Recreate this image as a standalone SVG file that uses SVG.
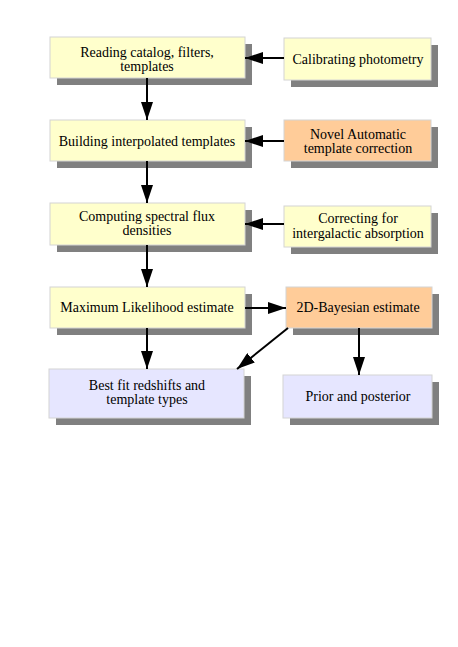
<svg xmlns="http://www.w3.org/2000/svg" width="458" height="647" viewBox="0 0 458 647">
<style>
.sh{fill:#808080}
.y{fill:#ffffcc;stroke:#d4d4d4;stroke-width:1}
.o{fill:#ffcc99;stroke:#d4d4d4;stroke-width:1}
.b{fill:#e6e6ff;stroke:#d4d4d4;stroke-width:1}
text{font-family:"Liberation Serif","Times New Roman",serif;font-size:14px;fill:#000;text-anchor:middle}
.c line{stroke:#000;stroke-width:2}
</style>
<defs>
<marker id="ah" markerUnits="userSpaceOnUse" markerWidth="18" markerHeight="12" refX="18" refY="6" orient="auto">
<path d="M0,0 L18,6 L0,12 Z" fill="#000"/>
</marker>
</defs>
<rect width="458" height="647" fill="#fff"/>
<g id="n1"><rect class="sh" x="57" y="44" width="195" height="41"/><rect class="y" x="50" y="37" width="195" height="41"/><text x="147" y="57">Reading catalog, filters,</text><text x="147" y="71">templates</text></g>
<g id="n2"><rect class="sh" x="291" y="45" width="147" height="42"/><rect class="y" x="284" y="38" width="147" height="42"/><text x="358" y="64">Calibrating photometry</text></g>
<g id="n3"><rect class="sh" x="57" y="127" width="195" height="41"/><rect class="y" x="50" y="120" width="195" height="41"/><text x="147" y="146">Building interpolated templates</text></g>
<g id="n4"><rect class="sh" x="291" y="127" width="147" height="41"/><rect class="o" x="284" y="120" width="147" height="41"/><text x="358" y="139">Novel Automatic</text><text x="358" y="153">template correction</text></g>
<g id="n5"><rect class="sh" x="57" y="210" width="195" height="42"/><rect class="y" x="50" y="203" width="195" height="42"/><text x="147" y="221">Computing spectral flux</text><text x="147" y="235">densities</text></g>
<g id="n6"><rect class="sh" x="291" y="213" width="147" height="41"/><rect class="y" x="284" y="206" width="147" height="41"/><text x="358" y="223">Correcting for</text><text x="358" y="238">intergalactic absorption</text></g>
<g id="n7"><rect class="sh" x="57" y="294" width="195" height="41"/><rect class="y" x="50" y="287" width="195" height="41"/><text x="147" y="312">Maximum Likelihood estimate</text></g>
<g id="n8"><rect class="sh" x="293" y="294" width="146" height="41"/><rect class="o" x="286" y="287" width="146" height="41"/><text x="358" y="312">2D-Bayesian estimate</text></g>
<g id="n9"><rect class="sh" x="56" y="376" width="195" height="49"/><rect class="b" x="49" y="369" width="195" height="49"/><text x="147" y="390">Best fit redshifts and</text><text x="147" y="404">template types</text></g>
<g id="n10"><rect class="sh" x="290" y="382" width="149" height="43"/><rect class="b" x="283" y="375" width="149" height="43"/><text x="358" y="401">Prior and posterior</text></g>
<g id="connectors" class="c">
<line x1="284" y1="58" x2="245" y2="58" marker-end="url(#ah)"/>
<line x1="147" y1="78" x2="147" y2="120" marker-end="url(#ah)"/>
<line x1="284" y1="141" x2="245" y2="141" marker-end="url(#ah)"/>
<line x1="147" y1="161" x2="147" y2="203" marker-end="url(#ah)"/>
<line x1="284" y1="224" x2="245" y2="224" marker-end="url(#ah)"/>
<line x1="147" y1="245" x2="147" y2="287" marker-end="url(#ah)"/>
<line x1="245" y1="308" x2="286" y2="308" marker-end="url(#ah)"/>
<line x1="147" y1="328" x2="147" y2="369" marker-end="url(#ah)"/>
<line x1="288" y1="328" x2="237" y2="369" marker-end="url(#ah)"/>
<line x1="359" y1="328" x2="359" y2="375" marker-end="url(#ah)"/>
</g>
</svg>
